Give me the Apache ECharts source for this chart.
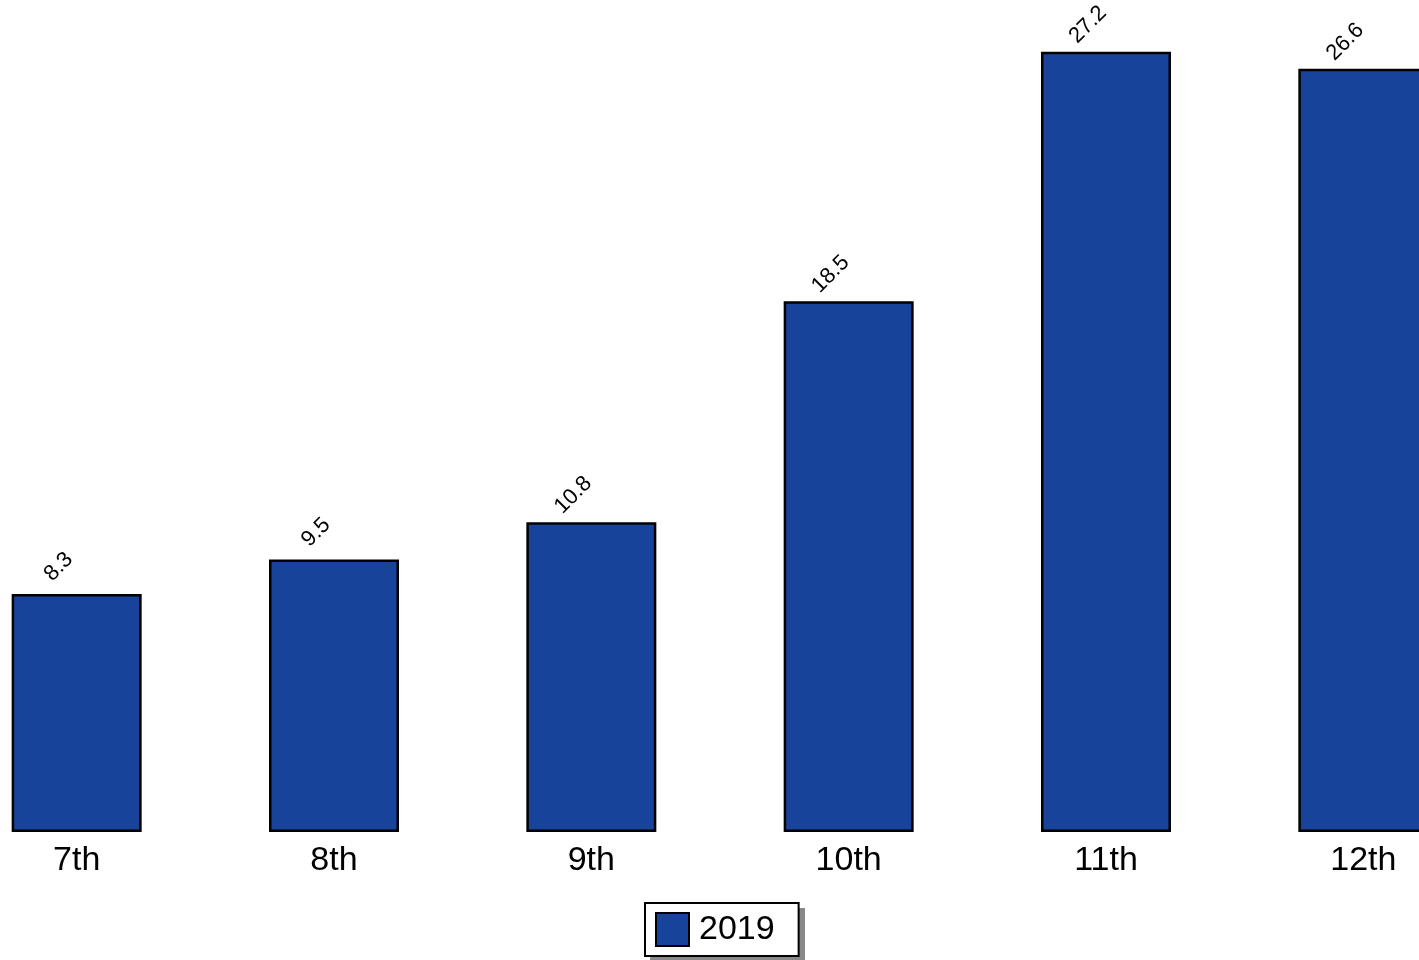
<!DOCTYPE html>
<html><head><meta charset="utf-8">
<script src="https://cdn.jsdelivr.net/npm/echarts@6/dist/echarts.min.js"></script>
<style>html,body{margin:0;padding:0;background:#fff;overflow:hidden;width:1419px;height:960px}#c{position:absolute;left:-52px;top:0;width:1544px;height:960px}</style>
</head><body><div id="c"></div>
<script>
const categories = ['7th', '8th', '9th', '10th', '11th', '12th'];
const seriesName = '2019';
const values = [8.3, 9.5, 10.8, 18.5, 27.2, 26.6];

const OFF = 52;
const chart = echarts.init(document.getElementById('c'));
chart.setOption({
  animation: false,
  grid: { left: 0, right: 0, top: 0, height: 832, containLabel: false },
  xAxis: {
    type: 'category', data: categories,
    axisLine: { show: false }, axisTick: { show: false },
    axisLabel: { color: '#000', fontSize: 34, fontFamily: 'Liberation Sans, Arial, sans-serif', margin: 12 }
  },
  yAxis: { type: 'value', min: 0, max: 29, show: false, splitLine: { show: false } },
  graphic: [{
    type: 'rect', left: 650 + OFF, top: 908, z: -1,
    shape: { width: 155, height: 55 }, style: { fill: '#888' }
  }],
  legend: {
    data: [seriesName], left: 645 + OFF, top: 903,
    itemWidth: 33, itemHeight: 33, icon: 'rect',
    padding: [9, 24, 9, 10],
    borderColor: '#000', borderWidth: 2, backgroundColor: '#fff',
    textStyle: { color: '#000', fontSize: 34, fontFamily: 'Liberation Sans, Arial, sans-serif', padding: [0, 0, 0, 5] },
    itemStyle: { borderColor: '#000', borderWidth: 2 }
  },
  series: [{
    name: seriesName, type: 'bar', data: values, barWidth: 130,
    itemStyle: { color: '#17449A', borderColor: '#000', borderWidth: 2.5 },
    label: {
      show: true, position: [47, -27], rotate: 45, align: 'center', verticalAlign: 'middle',
      color: '#000', fontSize: 22, fontFamily: 'Liberation Sans, Arial, sans-serif'
    }
  }]
});
</script></body></html>
